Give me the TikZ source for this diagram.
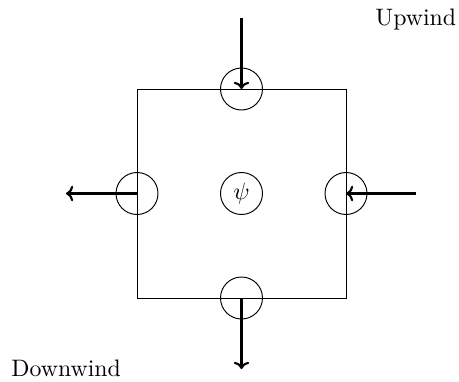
\documentclass[tikz,border=0pt]{standalone}
\usetikzlibrary{arrows.meta}
\begin{document}
\begin{tikzpicture}[x=0.42pt,y=-0.42pt,
  cell/.style={draw,line width=0.4pt},
  face/.style={draw,circle,minimum size=42*0.42pt,inner sep=0pt,line width=0.4pt},
  flux/.style={line width=0.9pt,-{To[length=3pt,width=6.5pt]}},
  lbl/.style={font=\normalsize,inner sep=0pt}]
\useasboundingbox (0,0) rectangle (459,382);
\node[cell,minimum width=209*0.42pt,minimum height=209*0.42pt,inner sep=0pt] (box) at (241.5,193.5) {};
\node[face] (ft) at (241.5,89) {};
\node[face] (fl) at (137,193.5) {};
\node[face] (fr) at (346,193.5) {};
\node[face] (fb) at (241.5,298) {};
\node[face] (psi) at (241.5,193.5) {$\psi$};
\coordinate (st) at (241.5,18);
\coordinate (el) at (66,193.5);
\coordinate (sr) at (416,193.5);
\coordinate (eb) at (241.5,369);
\draw[flux] (st) -- (ft.center);
\draw[flux] (fl.center) -- (el);
\draw[flux] (sr) -- (fr.center);
\draw[flux] (fb.center) -- (eb);
\node[lbl,anchor=base west] (up) at (375,25) {Upwind};
\node[lbl,anchor=base west] (down) at (11,376) {Downwind};
\end{tikzpicture}
\end{document}
